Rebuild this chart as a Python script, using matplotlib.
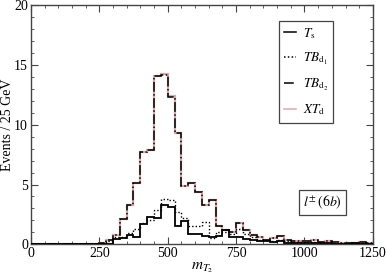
import numpy as np
import matplotlib
matplotlib.use("Agg")
import matplotlib.pyplot as plt
from matplotlib.ticker import MultipleLocator

plt.rcParams['font.family'] = ['Liberation Serif', 'DejaVu Serif']
plt.rcParams['mathtext.fontset'] = 'stix'

# bin edges 0..1250 GeV in 25 GeV steps, first 10 bins empty
edges = np.arange(0, 1275, 25)
empty = [0.0] * 10

# T_s (solid black)
t_s = empty + [0.0, 0.0, 0.45, 0.55, 0.75, 0.6, 1.7, 2.3, 2.2, 3.3,
               3.1, 1.55, 1.95, 0.9, 0.9, 0.7, 0.6, 0.7, 1.2, 0.6,
               0.6, 0.45, 0.4, 0.3, 0.25, 0.2, 0.25, 0.15, 0.15, 0.1,
               0.1, 0.15, 0.1, 0.1, 0.05, 0.05, 0.05, 0.1, 0.05, 0.05]

# TB_d1 (dotted)
tb_d1 = empty + [0.05, 0.3, 0.6, 0.65, 0.95, 1.3, 1.75, 2.0, 2.9, 3.75,
                 3.7, 2.7, 2.2, 1.5, 1.5, 1.9, 0.5, 1.0, 1.0, 0.9,
                 1.3, 0.9, 0.6, 0.4, 0.35, 0.3, 0.35, 0.25, 0.2, 0.2,
                 0.2, 0.2, 0.15, 0.15, 0.1, 0.1, 0.1, 0.1, 0.1, 0.05]

# TB_d2 (dash-dot)
tb_d2 = empty + [0.15, 0.4, 0.8, 2.1, 3.3, 5.1, 7.7, 7.9, 14.1, 14.15,
                 12.3, 9.3, 4.85, 5.1, 4.4, 3.3, 3.7, 1.5, 1.2, 1.0,
                 1.8, 1.2, 0.8, 0.6, 0.4, 0.5, 0.7, 0.35, 0.3, 0.3,
                 0.25, 0.35, 0.2, 0.25, 0.2, 0.15, 0.1, 0.15, 0.2, 0.1]

# XT_d (pink)
xt_d = empty + [0.15, 0.4, 0.8, 2.1, 3.3, 5.1, 7.7, 7.9, 14.1, 14.2,
                12.4, 9.3, 4.85, 5.1, 4.4, 3.3, 3.7, 1.5, 1.2, 1.0,
                1.8, 1.2, 0.8, 0.6, 0.4, 0.5, 0.7, 0.35, 0.3, 0.3,
                0.25, 0.35, 0.2, 0.25, 0.2, 0.15, 0.1, 0.15, 0.2, 0.1]

fig = plt.figure(figsize=(3.86, 2.78), dpi=100)
ax = fig.add_axes([0.080, 0.121, 0.886, 0.861])

ax.stairs(xt_d, edges, color='#d9a9aa', lw=1.6, label=r'$XT_{\rm d}$', zorder=2)
ax.stairs(tb_d2, edges, color='black', lw=1.1, ls='-.', label=r'$TB_{\rm d_2}$', zorder=3)
ax.stairs(tb_d1, edges, color='black', lw=1.0, ls=(0, (1, 1.5)), label=r'$TB_{\rm d_1}$', zorder=3)
ax.stairs(t_s, edges, color='black', lw=1.3, ls='-', label=r'$T_{\rm s}$', zorder=4)

ax.set_xlim(0, 1250)
ax.set_ylim(0, 20)
ax.xaxis.set_major_locator(MultipleLocator(250))
ax.xaxis.set_minor_locator(MultipleLocator(50))
ax.yaxis.set_major_locator(MultipleLocator(5))
ax.yaxis.set_minor_locator(MultipleLocator(1))
ax.tick_params(which='both', direction='in', top=True, right=True, labelsize=10,
               color='#444444', pad=2)
ax.tick_params(which='major', length=5)
ax.tick_params(which='minor', length=2.5)
for s in ax.spines.values():
    s.set_color('#444444')
    s.set_linewidth(1.0)

ax.set_xlabel(r'$m_{T_2}$', fontsize=11, labelpad=0)
ax.set_ylabel('Events / 25 GeV', fontsize=10)
ax.yaxis.set_label_coords(-0.05, 0.5)

handles, labels = ax.get_legend_handles_labels()
order = [3, 2, 1, 0]
leg = ax.legend([handles[i] for i in order], [labels[i] for i in order],
                loc='upper right', bbox_to_anchor=(0.884, 0.934), fontsize=9.5,
                handlelength=0.9, handletextpad=0.5, borderpad=0.4, labelspacing=0.75,
                borderaxespad=0, fancybox=False, edgecolor='#444444', framealpha=1)
leg.get_frame().set_linewidth(0.9)
for h in leg.legend_handles:
    h.set_linewidth(1.1)

ax.text(1067, 3.5, r'$l^{\pm}\,(6b)$', fontsize=10, ha='center', va='center',
        bbox=dict(boxstyle='square,pad=0.3', fc='white', ec='#444444', lw=0.9))

fig.savefig('out.png', dpi=100)
